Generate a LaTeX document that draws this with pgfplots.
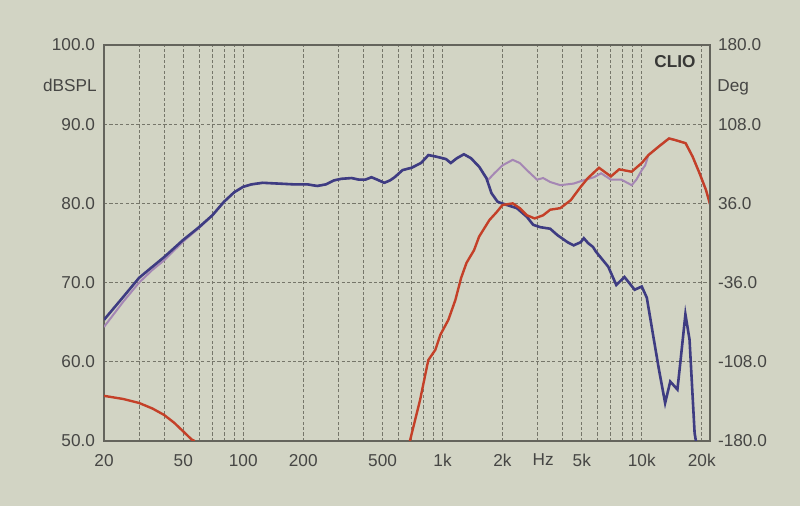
\documentclass[border=0pt]{standalone}
\usepackage{fontspec}
\setmainfont{Liberation Sans}
\usepackage{pgfplots}
\pgfplotsset{compat=1.18}
\definecolor{paper}{RGB}{210,212,196}
\definecolor{gridc}{RGB}{118,118,106}
\definecolor{framec}{RGB}{100,100,92}
\definecolor{txt}{RGB}{70,70,68}
\definecolor{blueL}{RGB}{62,60,130}
\definecolor{purpL}{RGB}{165,135,180}
\definecolor{redL}{RGB}{196,64,40}
\begin{document}
\begin{tikzpicture}[font=\fontsize{8.6}{10}\selectfont]
\useasboundingbox (0,0) rectangle (400pt,253pt);
\fill[paper] (0,0) rectangle (400pt,253pt);
\begin{axis}[
 at={(52pt,32.5pt)}, anchor=south west,
 scale only axis, width=303pt, height=198pt,
 xmode=log, xmin=20, xmax=22000, ymin=50, ymax=100,
 axis line style={framec, line width=0.7pt},
 xtick={20,50,100,200,500,1000,2000,5000,10000,20000},
 xticklabels={20,50,100,200,500,1k,2k,5k,10k,20k},
 minor xtick={30,40,60,70,80,90,300,400,600,700,800,900,3000,4000,6000,7000,8000,9000},
 extra x ticks={3200}, extra x tick labels={Hz},
 extra x tick style={grid=none},
 ytick={50,60,70,80,90,100},
 yticklabels={50.0,60.0,70.0,80.0,90.0,100.0},
 xmajorgrids, xminorgrids, ymajorgrids,
 grid style={gridc, dash pattern=on 1.6pt off 1.1pt, line width=0.45pt},
 major tick length=0pt, minor tick length=0pt,
 tick label style={text=txt},
 xticklabel style={yshift=-3pt},
 yticklabel style={xshift=-1pt},
]
\addplot[purpL, line width=1pt, mark=none] coordinates {
(20,64.4)(25,67.6)(30,70.0)(35,71.6)(40,72.8)(50,75.2)(60,76.9)(70,78.5)(80,80.2)(90,81.4)
(100,82.1)(110,82.4)(125,82.6)(150,82.5)(180,82.4)(210,82.4)(235,82.2)(260,82.4)(285,82.9)
(310,83.1)(350,83.2)(380,83.0)(410,83.0)(440,83.3)(470,83.0)(510,82.6)(545,82.9)(575,83.3)
(630,84.2)(700,84.5)(780,85.1)(850,86.1)(930,85.9)(1040,85.6)(1100,85.1)(1180,85.7)(1280,86.2)
(1390,85.7)(1530,84.6)(1620,83.5)(1700,83.0)(1820,83.8)(2000,84.8)(2250,85.5)(2440,85.1)
(2650,84.2)(2980,83.0)(3200,83.2)(3470,82.7)(3900,82.3)(4550,82.5)(4940,82.8)(5750,83.3)
(6250,83.8)(7000,83.0)(7900,83.0)(8900,82.3)(9400,83.0)(10000,84.2)(10400,84.8)(10800,86.1)
(12200,87.2)(13700,88.2)(14700,88.0)(16600,87.6)(18000,85.9)(19500,83.8)(21000,81.7)(22000,79.9)
};
\addplot[blueL, line width=1.3pt, mark=none] coordinates {
(20,65.3)(25,68.2)(30,70.6)(35,72.0)(40,73.2)(50,75.4)(60,77.0)(70,78.5)(80,80.2)(90,81.4)
(100,82.1)(110,82.4)(125,82.6)(150,82.5)(180,82.4)(210,82.4)(235,82.2)(260,82.4)(285,82.9)
(310,83.1)(350,83.2)(380,83.0)(410,83.0)(440,83.3)(470,83.0)(510,82.6)(545,82.9)(575,83.3)
(630,84.2)(700,84.5)(780,85.1)(850,86.1)(930,85.9)(1040,85.6)(1100,85.1)(1180,85.7)(1280,86.2)
(1390,85.7)(1530,84.6)(1660,83.2)(1760,81.3)(1890,80.2)(2100,79.8)(2360,79.4)(2650,78.3)
(2850,77.3)(3090,77.0)(3470,76.8)(3770,76.0)(4240,75.1)(4550,74.7)(4940,75.1)(5120,75.6)
(5370,75.0)(5690,74.5)(5890,73.9)(6790,72.0)(7450,69.7)(8190,70.7)(9210,69.1)(10000,69.5)
(10600,68.1)(11500,62.8)(12200,59.0)(13100,54.8)(13900,57.5)(15100,56.5)(15600,59.8)
(16560,66.0)(17370,62.8)(18420,51.0)(18700,50.0)
};
\addplot[redL, line width=1.2pt, mark=none] coordinates {
(20,55.7)(25,55.3)(30,54.8)(35,54.1)(40,53.3)(45,52.3)(50,51.2)(55,50.2)(57,50.0)
};
\addplot[redL, line width=1.2pt, mark=none] coordinates {
(686,50.0)(772,55.2)(848,60.2)(920,61.5)(975,63.4)(1070,65.3)(1160,67.8)(1240,70.6)(1320,72.5)
(1440,74.1)(1526,75.8)(1720,77.9)(1870,78.9)(2000,79.8)(2250,80.0)(2440,79.4)(2650,78.5)
(2900,78.1)(3200,78.5)(3470,79.2)(3900,79.4)(4400,80.4)(4940,82.1)(5370,83.2)(6100,84.5)
(7000,83.4)(7700,84.3)(8900,84.0)(10000,85.1)(10800,86.1)(12200,87.2)(13700,88.2)(14700,88.0)
(16600,87.6)(18000,85.9)(19500,83.8)(21000,81.7)(22000,79.9)
};
\end{axis}
\begin{axis}[
 at={(52pt,32.5pt)}, anchor=south west,
 scale only axis, width=303pt, height=198pt,
 xmode=log, xmin=20, xmax=22000, ymin=-180, ymax=180,
 hide x axis, axis y line*=right,
 axis line style={framec, line width=0.7pt},
 ytick={-180,-108,-36,36,108,180},
 yticklabels={-180.0,-108.0,-36.0,36.0,108.0,180.0},
 major tick length=0pt, minor tick length=0pt,
 tick label style={text=txt},
 yticklabel style={xshift=0.5pt},
]
\end{axis}
\node[anchor=east, text=txt, inner sep=0pt] at (48.5pt,210.5pt) {dBSPL};
\node[anchor=west, text=txt, inner sep=0pt] at (358.5pt,209.5pt) {Deg};
\node[anchor=center, text=txt!80!black, inner sep=0pt, font=\fontsize{8.6}{10}\selectfont\bfseries] at (337.5pt,222pt) {CLIO};
\end{tikzpicture}
\end{document}
